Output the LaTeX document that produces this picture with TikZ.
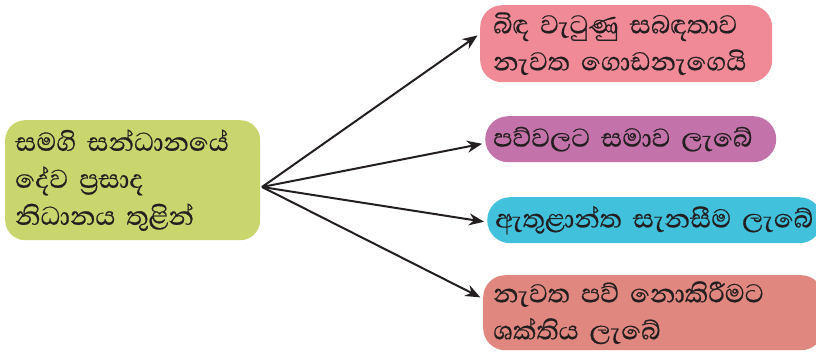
\documentclass[tikz,border=0pt]{standalone}
\usepackage{fontspec}
\newfontfamily\sinhalafont[Script=Sinhala, FakeBold=0.5]{Abhaya Libre}
\usetikzlibrary{arrows.meta}
\usetikzlibrary{positioning}
\definecolor{leafgreen}{HTML}{C9D66E}
\definecolor{rosepink}{HTML}{F08A97}
\definecolor{mauve}{HTML}{C373A9}
\definecolor{skyblue}{HTML}{41C1DC}
\definecolor{salmon}{HTML}{E0887F}
\definecolor{inkgray}{HTML}{231F20}
\newcommand{\boxfont}{\sinhalafont\fontsize{33}{37}\selectfont\setlength{\lineskiplimit}{-100pt}}
\tikzset{box/.style = {anchor = north west, align = left, text = inkgray,
                       font = \boxfont},
         pointer/.style = {-{Stealth[length=15pt, width=12pt]}, line width=2pt,
                           draw = inkgray, shorten > = 3pt}}

\begin{document}
\begin{tikzpicture}[x=1pt, y=1pt]
      \useasboundingbox (0, 0) rectangle (816, -353);

      \node [box, fill=leafgreen, rounded corners=20pt, inner xsep=10pt,
             text width=235pt, minimum height=120pt] (samagi) at (5, -120)
            {සමගි සන්ධානයේ\\දේව ප්^^^^200dරසාද\\නිධානය තුළින්};

      \node [box, fill=rosepink, rounded corners=22pt, inner xsep=13pt,
             text width=266pt, minimum height=77pt] (bidha) at (480, -5)
            {බිඳ වැටුණු සබඳතාව\\නැවත ගොඩනැගෙයි};
      \node [box, fill=mauve, rounded corners=23pt, inner xsep=8pt,
             text width=275pt, minimum height=46pt] (samava) at (485, -116)
            {පව්වලට සමාව ලැබේ};
      \node [box, fill=skyblue, rounded corners=23pt, inner xsep=8pt,
             text width=319pt, minimum height=46pt] (sanasima) at (487, -197)
            {ඇතුළාන්ත සැනසීම ලැබේ};
      \node [box, fill=salmon, rounded corners=22pt, inner xsep=10pt,
             text width=320pt, minimum height=75pt] (shakthi) at (483, -275)
            {නැවත පව් නොකිරීමට\\ශක්තිය ලැබේ};

      \coordinate (hub) at (262, -187);

      \draw [pointer] (hub) -- ([yshift=10pt]bidha.west);
      \draw [pointer] (hub) -- ([yshift=-4pt]samava.west);
      \draw [pointer] (hub) -- ([yshift=-2pt]sanasima.west);
      \draw [pointer] (hub) -- ([yshift=14pt]shakthi.west);

    \end{tikzpicture}
\end{document}
